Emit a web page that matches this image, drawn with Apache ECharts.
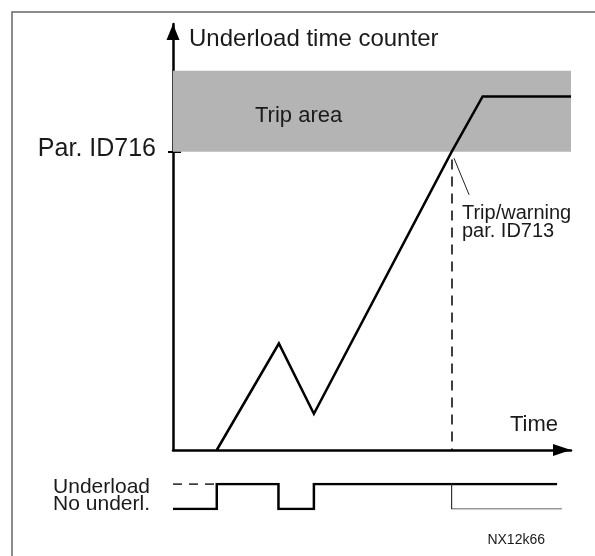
<!DOCTYPE html>
<html>
<head>
<meta charset="utf-8">
<script src="https://cdn.jsdelivr.net/npm/echarts@6/dist/echarts.min.js"></script>
<style>
  html, body { margin: 0; padding: 0; background: #fff; }
  #chart { width: 595px; height: 556px; }
</style>
</head>
<body>
<div id="chart"></div>
<script>
// underload time counter (time 0..100, counter 0..100)
var timePts = [11, 26.6, 35.4, 70, 77.8, 100];
var counterVals = [0, 25, 8.5, 70, 83, 83];
var tripLevel = 70;
var tripAreaTop = 89;
var tripTime = 70;

// underload state signal (1 = underload, 0 = no underload)
var stateTimes = [0, 11, 11, 26.5, 26.5, 35.4, 35.4, 96.5];
var stateVals = [0, 0, 1, 1, 0, 0, 1, 1];
var dashedTimes = [0, 11];
var afterTripTimes = [70, 70, 97.7];
var afterTripVals = [1, 0, 0];

var stateNames = ['No underl.', 'Underload'];

var font = 'Liberation Sans, Arial, Helvetica, sans-serif';
var ink = '#1a1a1a';

function pairs(xs, ys) {
  return xs.map(function (x, i) { return [x, ys[i]]; });
}

function stateAxis(value, pad) {
  return {
    type: 'value', gridIndex: 1, min: 0, max: 1, position: 'left',
    axisLine: { show: false }, axisTick: { show: false }, splitLine: { show: false },
    axisLabel: {
      show: true, customValues: [value], margin: 23, hideOverlap: false,
      showMinLabel: true, showMaxLabel: true,
      formatter: function () { return '{s|' + stateNames[value] + '}'; },
      rich: { s: { fontSize: 21, color: ink, fontFamily: font, padding: pad } }
    }
  };
}

var option = {
  animation: false,
  backgroundColor: '#fff',
  textStyle: { fontFamily: font, color: ink },
  title: {
    text: 'NX12k66',
    right: 50,
    top: 533,
    padding: 0,
    textStyle: { fontSize: 14, fontWeight: 'normal', color: ink, fontFamily: font }
  },
  graphic: [{
    type: 'rect',
    shape: { x: 12, y: 12, width: 700, height: 700 },
    style: { fill: 'none', stroke: '#666', lineWidth: 1.5 },
    silent: true
  }],
  grid: [
    { left: 173, right: 24, top: 24, bottom: 106, outerBoundsMode: 'none' },
    { left: 173, right: 24, top: 484, height: 25, outerBoundsMode: 'none' }
  ],
  xAxis: [{
    type: 'value', gridIndex: 0, min: 0, max: 100,
    name: '{t|Time}', nameLocation: 'end', nameGap: 0,
    nameTextStyle: {
      align: 'right', verticalAlign: 'middle',
      rich: { t: { fontSize: 22, color: ink, fontFamily: font, padding: [0, 13, 50, 0] } }
    },
    axisLine: { show: true, lineStyle: { color: '#000', width: 2.5 }, symbol: ['none', 'triangle'], symbolSize: [12, 18], symbolOffset: [0, -9] },
    axisTick: { show: false }, axisLabel: { show: false }, splitLine: { show: false }
  }, {
    type: 'value', gridIndex: 1, min: 0, max: 100, show: false
  }],
  yAxis: [{
    type: 'value', gridIndex: 0, min: 0, max: 100,
    name: 'Underload time counter', nameLocation: 'end', nameGap: -15,
    nameTextStyle: { fontSize: 24, color: ink, fontFamily: font, align: 'left', verticalAlign: 'middle', padding: [0, 0, 0, 16] },
    axisLine: { show: true, onZero: false, lineStyle: { color: '#000', width: 2.5 }, symbol: ['none', 'triangle'], symbolSize: [13, 16], symbolOffset: [0, -8] },
    axisTick: { show: true, customValues: [tripLevel], length: 5, lineStyle: { color: '#000', width: 2 } },
    axisLabel: {
      show: true, customValues: [tripLevel], margin: 17,
      formatter: function () { return '{p|Par. ID716}'; },
      rich: { p: { fontSize: 25, color: ink, fontFamily: font, padding: [0, 0, 5, 0] } }
    },
    splitLine: { show: false }
  }, {
    type: 'value', gridIndex: 0, min: 0, max: 100, position: 'left',
    axisLine: { show: false },
    axisTick: { show: true, inside: true, customValues: [tripLevel], length: 8, lineStyle: { color: '#000', width: 2 } },
    axisLabel: { show: false }, splitLine: { show: false }
  },
    stateAxis(1, [6, 0, 0, 0]),
    stateAxis(0, [0, 0, 10, 0])
  ],
  series: [{
    type: 'line', xAxisIndex: 0, yAxisIndex: 0,
    data: pairs(timePts, counterVals),
    showSymbol: false, symbol: 'none',
    lineStyle: { color: '#000', width: 2.5, join: 'miter' },
    z: 5,
    markArea: {
      silent: true,
      itemStyle: { color: '#b4b4b4' },
      label: { show: true, position: 'insideLeft', offset: [77, 5], fontSize: 22, color: ink, fontFamily: font },
      data: [[{ name: 'Trip area', yAxis: tripLevel }, { yAxis: tripAreaTop }]]
    },
    markLine: {
      silent: true, symbol: 'none', animation: false,
      label: { show: false },
      data: [
        [{ coord: [tripTime, 68.2], lineStyle: { type: [10, 7], width: 1.5, color: '#000' } }, { coord: [tripTime, 0] }],
        [{ coord: [70.6, 68.5], lineStyle: { type: 'solid', width: 1, color: '#222' } }, { coord: [74.4, 59.9] }]
      ]
    },
    markPoint: {
      silent: true, symbol: 'circle', symbolSize: 0,
      data: [{
        coord: [72.6, 53.3], value: 0,
        label: {
          show: true, position: 'inside', align: 'left', verticalAlign: 'middle',
          formatter: 'Trip/warning\npar. ID713', fontSize: 20, lineHeight: 18, color: ink, fontFamily: font
        }
      }]
    }
  }, {
    type: 'line', xAxisIndex: 1, yAxisIndex: 2,
    data: pairs(stateTimes, stateVals),
    symbol: 'none', lineStyle: { color: '#000', width: 2.5, join: 'miter' }
  }, {
    type: 'line', xAxisIndex: 1, yAxisIndex: 2,
    data: pairs(dashedTimes, [1, 1]),
    symbol: 'none', lineStyle: { color: '#000', width: 1.5, type: [9, 7] }
  }, {
    type: 'line', xAxisIndex: 1, yAxisIndex: 2,
    data: pairs(afterTripTimes, afterTripVals),
    symbol: 'none', lineStyle: { color: '#333', width: 1.2 }
  }]
};

var myChart = echarts.init(document.getElementById('chart'));
myChart.setOption(option);
</script>
</body>
</html>
